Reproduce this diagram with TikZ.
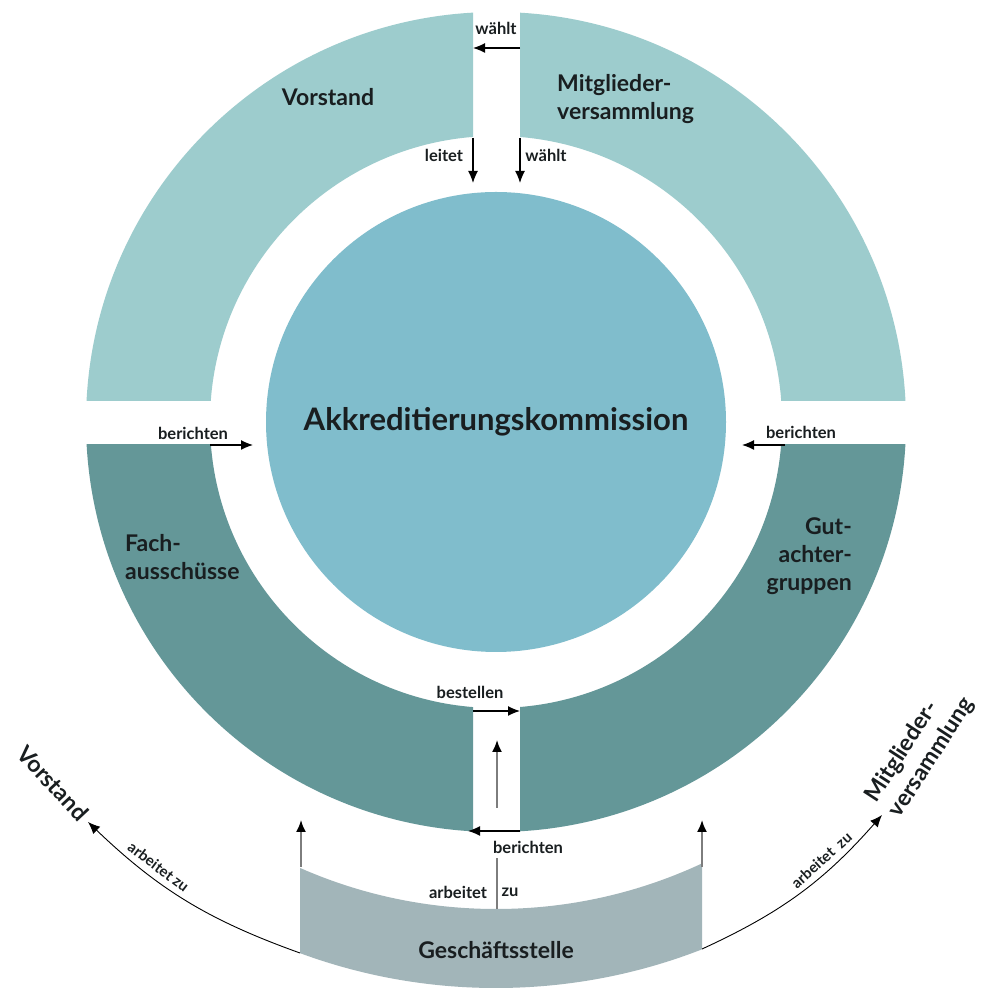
\documentclass[tikz,border=0pt]{standalone}
\usepackage{fontspec}
\setmainfont{Lato}
\usetikzlibrary{arrows.meta,calc}
\definecolor{hellblau}{RGB}{157,204,205}
\definecolor{kreisblau}{RGB}{128,189,204}
\definecolor{dunkeltuerkis}{RGB}{100,151,152}
\definecolor{graublau}{RGB}{162,181,185}
\definecolor{pfeilgrau}{RGB}{125,125,125}
\definecolor{schrift}{RGB}{25,30,32}
\tikzset{
  pfeil/.style={-{Latex[length=12pt,width=10pt]}, line width=1.3pt},
  graupfeil/.style={-{Latex[length=12pt,width=10pt,color=black]}, line width=1.8pt, draw=pfeilgrau},
  bogen/.style={-{Latex[length=12pt,width=10pt]}, line width=0.9pt},
  klein/.style={font=\fontsize{16.5}{18}\selectfont\bfseries, text=schrift, inner sep=1pt},
  bogentext/.style={font=\fontsize{15}{17}\selectfont\bfseries, text=schrift, inner sep=0pt},
  bereich/.style={font=\fontsize{23}{28}\selectfont\bfseries, text=schrift, inner sep=0pt},
}

\begin{document}
\begin{tikzpicture}[x=1pt,y=1pt]
\useasboundingbox (0,0) rectangle (983,992);
\fill [white] (0,0) rectangle (983,992);
\coordinate (C) at (496,570);
% Ring
\begin{scope}
\clip (0,591) rectangle (473,992);
\fill [hellblau, even odd rule] (C) circle [radius=410pt] (C) circle [radius=286pt];
\end{scope}
\begin{scope}
\clip (520,591) rectangle (983,992);
\fill [hellblau, even odd rule] (C) circle [radius=410pt] (C) circle [radius=286pt];
\end{scope}
\begin{scope}
\clip (0,0) rectangle (473,547);
\fill [dunkeltuerkis, even odd rule] (C) circle [radius=410pt] (C) circle [radius=286pt];
\end{scope}
\begin{scope}
\clip (520,0) rectangle (983,547);
\fill [dunkeltuerkis, even odd rule] (C) circle [radius=410pt] (C) circle [radius=286pt];
\end{scope}
% Geschaeftsstelle
\begin{scope}
\clip (300,0) rectangle (702,300);
\fill [graublau, even odd rule] (C) circle [radius=566pt] (C) circle [radius=487pt];
\end{scope}
\node [circle, fill=kreisblau, minimum size=460pt, inner sep=0pt,
  font=\fontsize{31}{36}\selectfont\bfseries, text=schrift] (kommission) at (C) {Akkreditierungskommission};

\node [bereich] (vorstand) at (328,895) {Vorstand};
\node [bereich, align=left, anchor=west] (mitglieder) at (557,893) {Mitglieder-\\versammlung};
\node [bereich, align=left, anchor=west] (fach) at (125,435) {Fach-\\ausschüsse};
\node [bereich, align=right, anchor=east] (gutachter) at (852,436) {Gut-\\achter-\\gruppen};
\node [bereich] (gst) at (496,42) {Geschäftsstelle};
\node [bereich, rotate=-47] (vorstandB) at (53,209) {Vorstand};
\node [bereich, align=left, rotate=57] (mitgliederB) at (920,242) {Mitglieder-\\versammlung};

% oben
\coordinate (wahlA) at (520,944);
\coordinate (wahlB) at (473,944);
\draw [pfeil] (wahlA) -- (wahlB);
\node [klein] (waehlt1) at (496,964) {wählt};
\coordinate (leitA) at (473,854);
\coordinate (leitB) at (473,809);
\draw [pfeil] (leitA) -- (leitB);
\node [klein] (leitet) at (444,837) {leitet};
\coordinate (wahlC) at (520,854);
\coordinate (wahlD) at (520,809);
\draw [pfeil] (wahlC) -- (wahlD);
\node [klein] (waehlt2) at (546,837) {wählt};

% seitlich
\coordinate (berLA) at (210,547);
\coordinate (berLB) at (253,547);
\draw [pfeil] (berLA) -- (berLB);
\node [klein] (berichtenL) at (193,559) {berichten};
\coordinate (berRA) at (785,547);
\coordinate (berRB) at (742,547);
\draw [pfeil] (berRA) -- (berRB);
\node [klein] (berichtenR) at (801,560) {berichten};

% unten
\coordinate (bestA) at (473,281);
\coordinate (bestB) at (520,281);
\draw [pfeil] (bestA) -- (bestB);
\node [klein] (bestellen) at (470,300) {bestellen};
\coordinate (hochA) at (497,184);
\coordinate (hochB) at (497,252);
\draw [graupfeil] (hochA) -- (hochB);
\coordinate (berUA) at (520,161);
\coordinate (berUB) at (468,161);
\draw [pfeil] (berUA) -- (berUB);
\node [klein] (berichtenU) at (528,145) {berichten};
\coordinate (zuA) at (497,83);
\coordinate (zuB) at (497,134);
\draw [draw=pfeilgrau, line width=1.5pt] (zuA) -- (zuB);
\node [klein] (arbeitet) at (458,100) {arbeitet};
\node [klein] (zu) at (510,100) {zu};

% Geschaeftsstelle
\coordinate (gstLO) at (301,125);
\coordinate (gstLS) at (301,172);
\draw [graupfeil] (gstLO) -- (gstLS);
\coordinate (gstRO) at (702,125);
\coordinate (gstRS) at (702,172);
\draw [graupfeil] (gstRO) -- (gstRS);
\coordinate (gstLU) at (300,39);
\coordinate (vsSpitze) at (88,170);
\draw [bogen] (gstLU) to [bend left=12] node [bogentext, pos=0.68, above=6pt, sloped] {arbeitet zu} (vsSpitze);
\coordinate (gstRU) at (702,43);
\coordinate (mvSpitze) at (882,177);
\draw [bogen] (gstRU) to [bend right=12] node [bogentext, pos=0.68, above=6pt, sloped] {arbeitet\ \ zu} (mvSpitze);
\end{tikzpicture}
\end{document}
